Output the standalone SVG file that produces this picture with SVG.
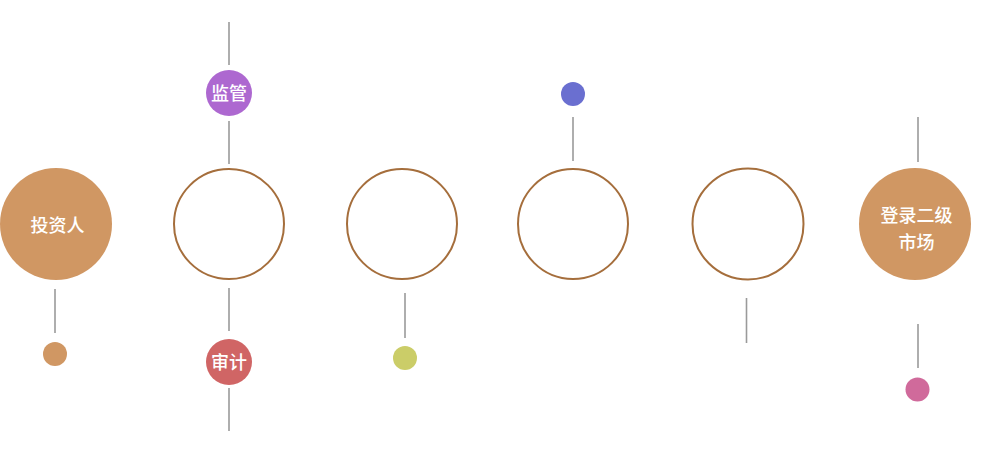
<svg xmlns="http://www.w3.org/2000/svg" width="1007" height="462" viewBox="0 0 1007 462">
<style>
.big{fill:#D09763}
.ring{fill:#fff;stroke:#A56E3C;stroke-width:2}
.ln{stroke:#9a9a9a;stroke-width:1.6;fill:none}
.t{fill:#fff;font-family:"Noto Sans CJK SC","Noto Sans",sans-serif;font-size:18px;font-weight:500;text-anchor:middle}
</style>
<rect width="1007" height="462" fill="#fff"/>
<g id="connectors">
<line class="ln" x1="55" y1="289" x2="55" y2="333"/>
<line class="ln" x1="229" y1="22" x2="229" y2="65"/>
<line class="ln" x1="229" y1="121" x2="229" y2="164"/>
<line class="ln" x1="229" y1="288" x2="229" y2="331"/>
<line class="ln" x1="229" y1="388" x2="229" y2="431"/>
<line class="ln" x1="405" y1="293" x2="405" y2="338"/>
<line class="ln" x1="573" y1="117" x2="573" y2="161"/>
<line class="ln" x1="746.5" y1="298" x2="746.5" y2="343"/>
<line class="ln" x1="918" y1="117" x2="918" y2="162"/>
<line class="ln" x1="918" y1="324" x2="918" y2="368"/>
</g>
<g id="investor"><circle class="big" cx="56" cy="224" r="56"/><text class="t" x="57.5" y="232">投资人</text></g>
<g id="dot-investor"><circle cx="55" cy="354" r="12" fill="#D09763"/></g>
<g id="supervise"><circle cx="229" cy="93" r="23" fill="#AD68D0"/><text class="t" x="229" y="100">监管</text></g>
<g id="ring1"><circle class="ring" cx="229" cy="224" r="55"/></g>
<g id="audit"><circle cx="229" cy="362" r="23" fill="#D06565"/><text class="t" x="229" y="369">审计</text></g>
<g id="ring2"><circle class="ring" cx="402" cy="224" r="55"/></g>
<g id="dot-yellow"><circle cx="405" cy="358" r="12" fill="#CBCD68"/></g>
<g id="ring3"><circle class="ring" cx="573" cy="224" r="55"/></g>
<g id="dot-blue"><circle cx="573" cy="94" r="12" fill="#6A6FD0"/></g>
<g id="ring4"><circle class="ring" cx="748" cy="224" r="55.5"/></g>
<g id="secondary"><circle class="big" cx="915" cy="224" r="56"/><text class="t" x="916.5" y="222">登录二级</text><text class="t" x="916.5" y="249">市场</text></g>
<g id="dot-pink"><circle cx="917.5" cy="389.5" r="12" fill="#D06A9B"/></g>
</svg>
